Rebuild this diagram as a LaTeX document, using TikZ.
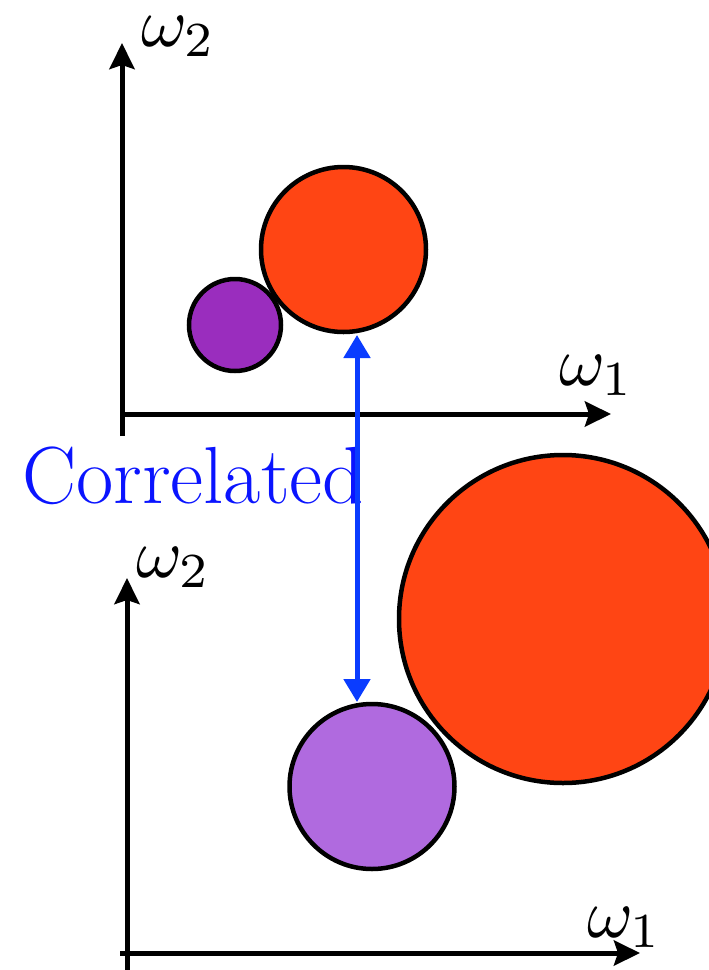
\documentclass[tikz,border=0pt]{standalone}
\usepackage{graphicx}
\usetikzlibrary{arrows.meta}
\definecolor{cred}{RGB}{255,69,20}
\definecolor{cpurpdark}{RGB}{154,45,190}
\definecolor{cpurplight}{RGB}{176,106,223}
\definecolor{carrow}{RGB}{10,60,255}
\definecolor{ctext}{RGB}{10,20,255}
\newcommand{\biglbl}[1]{\scalebox{7}{$#1$}}
\tikzset{
  axis/.style={line width=5pt, -{Stealth[length=26pt,width=25pt,inset=4pt]}},
  ball/.style={circle, draw=black, line width=4.5pt, inner sep=0pt},
  corr/.style={line width=5pt, carrow, {Triangle[length=23pt,width=26pt]}-{Triangle[length=23pt,width=26pt]}},
  lbl/.style={anchor=base west, inner sep=0pt},
}
\begin{document}
\begin{tikzpicture}[x=1pt,y=-1pt]
\useasboundingbox (0,0) rectangle (709,970);
% top panel
\coordinate (tyb) at (122,436);
\coordinate (tyt) at (122,43);
\coordinate (txl) at (124,414);
\coordinate (txr) at (611,414);
\draw[axis] (tyb) -- (tyt);
\draw[axis] (txl) -- (txr);
\node[lbl] (tw2) at (141,46) {\biglbl{\omega_2}};
\node[lbl] (tw1) at (559,385) {\biglbl{\omega_1}};
\node[ball, fill=cpurpdark, minimum size=92pt] (tp) at (235,325) {};
\node[ball, fill=cred, minimum size=165pt] (tr) at (343.5,249.5) {};
% bottom panel
\coordinate (byb) at (127,970);
\coordinate (byt) at (127,578);
\coordinate (bxl) at (120,953);
\coordinate (bxr) at (640,953);
\draw[axis] (byb) -- (byt);
\draw[axis] (bxl) -- (bxr);
\node[lbl] (bw2) at (136,577) {\biglbl{\omega_2}};
\node[lbl] (bw1) at (587,937) {\biglbl{\omega_1}};
\node[ball, fill=cred, minimum size=328pt] (br) at (563,619) {};
\node[ball, fill=cpurplight, minimum size=165pt] (bp) at (372,786.5) {};
% label and correlation arrow
\node[anchor=base west, inner sep=0pt, text=ctext, font=\fontsize{81}{97}\selectfont] (corrlbl) at (22,503) {Correlated};
\coordinate (ctop) at (357,335);
\coordinate (cbot) at (357,702);
\draw[corr] (ctop) -- (cbot);
\end{tikzpicture}
\end{document}
